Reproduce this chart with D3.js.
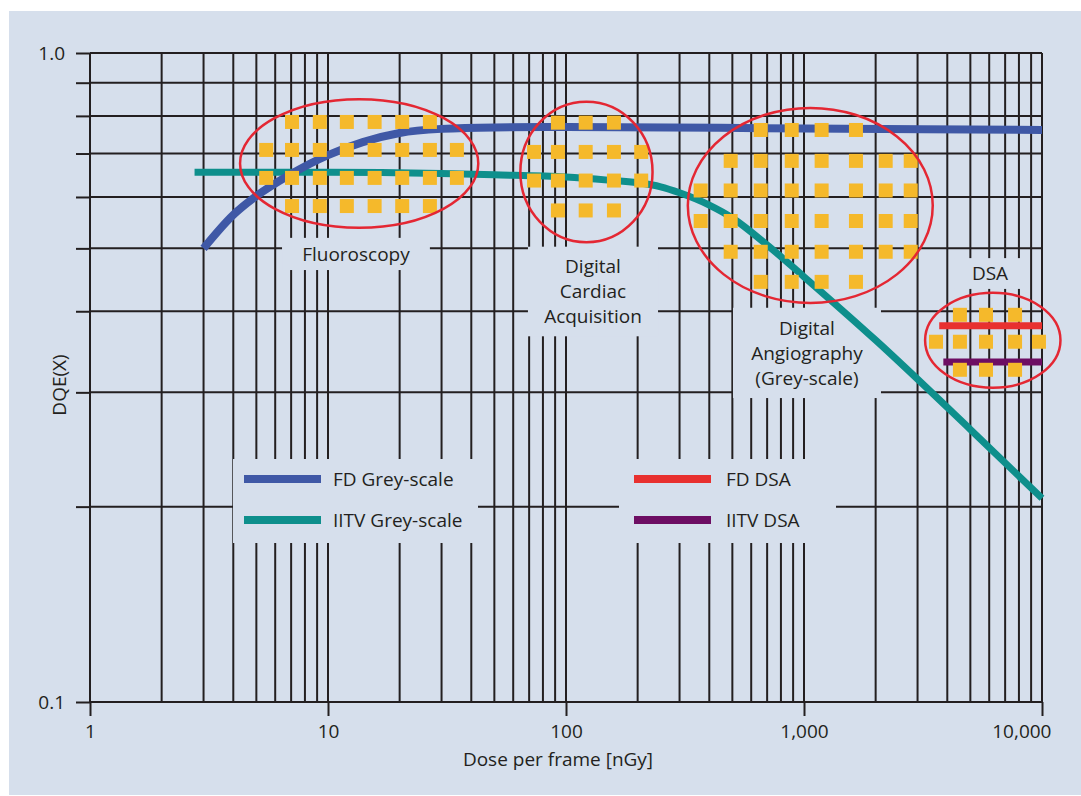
<!DOCTYPE html>
<html>
<head>
<meta charset="utf-8">
<script src="https://cdn.jsdelivr.net/npm/d3@7/dist/d3.min.js"></script>
<style>
  html, body { margin: 0; padding: 0; background: #ffffff; }
  svg { display: block; }
  text { font-family: "Open Sans", "Noto Sans", sans-serif; fill: #231f20; }
</style>
</head>
<body>
<svg id="chart" width="1081" height="796"></svg>
<script>
// ---- Data -------------------------------------------------------------
// Flat-detector grey-scale DQE vs dose per frame
const doseFD = [3, 4, 5, 7, 10, 14, 20, 30, 50, 100, 1000, 10000];
const dqeFD  = [0.50, 0.563, 0.602, 0.651, 0.696, 0.729, 0.753, 0.764, 0.768, 0.769, 0.765, 0.761];

// Image-intensifier TV grey-scale DQE
const doseIITV = [2.75, 10, 30, 50, 100, 150, 200, 250, 300, 400, 500, 700, 1000, 2000, 5000, 10000];
const dqeIITV  = [0.655, 0.655, 0.652, 0.649, 0.644, 0.637, 0.631, 0.622, 0.609, 0.583, 0.557, 0.506, 0.452, 0.361, 0.263, 0.206];

// DSA levels (dose range, DQE)
const doseFDDSA = [3700, 10000];
const dqeFDDSA  = [0.38, 0.38];
const doseIITVDSA = [3850, 10000];
const dqeIITVDSA  = [0.334, 0.334];

// Axis ticks
const doseMajorTicks  = [1, 10, 100, 1000, 10000];
const doseTickLabels  = ["1", "10", "100", "1,000", "10,000"];
const dqeGridValues   = [0.1, 0.2, 0.3, 0.4, 0.5, 0.6, 0.7, 0.8, 0.9, 1.0];
const dqeLabelledTicks = [0.1, 1.0];

// Typical operating points of each imaging mode (dose columns, DQE rows,
// and the first/last column used in each row)
const fluoroCols  = [5.5, 7.06, 9.24, 12.0, 15.7, 20.5, 26.8, 34.8];
const fluoroRows  = [0.783, 0.709, 0.642, 0.581];
const fluoroSpans = [[1, 6], [0, 7], [0, 7], [1, 6]];

const cardiacCols  = [73.4, 92.5, 121, 159, 207];
const cardiacRows  = [0.781, 0.704, 0.636, 0.572];
const cardiacSpans = [[1, 3], [0, 4], [0, 4], [1, 3]];

const angioCols  = [368, 492, 658, 888, 1186, 1653, 2204, 2808];
const angioRows  = [0.761, 0.682, 0.614, 0.551, 0.494, 0.444];
const angioSpans = [[2, 5], [1, 7], [0, 7], [0, 7], [1, 7], [2, 5]];

const dsaCols  = [3586, 4520, 5817, 7706, 9710];
const dsaRows  = [0.395, 0.359, 0.325];
const dsaSpans = [[1, 3], [0, 4], [1, 3]];

// Ellipses enclosing each mode: [dose min, dose max], [DQE low, DQE high]
const modeEllipses = [
  { dose: [4.27, 42.8],  dqe: [0.538, 0.849] },
  { dose: [64.3, 231],   dqe: [0.511, 0.841] },
  { dose: [325, 3475],   dqe: [0.412, 0.823] },
  { dose: [3227, 11957], dqe: [0.305, 0.427] }
];

// Mode captions, placed in data space on a plain backing panel
const modeLabels = [
  { dose: [6.41, 26.8],  dqe: [0.463, 0.519], lines: ["Fluoroscopy"] },
  { dose: [69.2, 243.6], dqe: [0.366, 0.503], lines: ["Digital", "Cardiac", "Acquisition"] },
  { dose: [503, 2106],   dqe: [0.294, 0.405], lines: ["Digital", "Angiography", "(Grey-scale)"] },
  { dose: [4307, 8487],  dqe: [0.433, 0.483], lines: ["DSA"] }
];

const legendNames = ["FD Grey-scale", "IITV Grey-scale", "FD DSA", "IITV DSA"];

// ---- Styles -----------------------------------------------------------
const BG = "#d6dfec";
const INK = "#231f20";
const C_FD = "#3f58a6";
const C_IITV = "#0e8f8c";
const C_FDDSA = "#e8302f";
const C_IITVDSA = "#6d0e63";
const C_DOT = "#f5b92b";
const C_RING = "#e42733";
const FONT = 19;

// ---- Layout -----------------------------------------------------------
const svg = d3.select("#chart");
const plot = { left: 90, right: 1042, top: 53, bottom: 702 };

svg.append("rect")
  .attr("x", 9).attr("y", 11).attr("width", 1072).attr("height", 784)
  .attr("fill", BG);

const x = d3.scaleLog().domain([1, 10000]).range([plot.left, plot.right]);
const y = d3.scaleLog().domain([0.1, 1]).range([plot.bottom, plot.top]);

// ---- Grid -------------------------------------------------------------
const minorDoses = [];
for (let p = 1; p <= 1000; p *= 10) {
  for (let m = 1; m <= 9; m++) minorDoses.push(m * p);
}
minorDoses.push(10000);

const grid = svg.append("g").attr("stroke", INK).attr("stroke-width", 2);
grid.selectAll("line.v").data(minorDoses).join("line")
  .attr("class", "v")
  .attr("x1", d => x(d)).attr("x2", d => x(d))
  .attr("y1", y(1)).attr("y2", y(0.1));
grid.selectAll("line.h").data(dqeGridValues).join("line")
  .attr("class", "h")
  .attr("x1", x(1)).attr("x2", x(10000))
  .attr("y1", d => y(d)).attr("y2", d => y(d));

// ---- Axes -------------------------------------------------------------
const xAxis = d3.axisBottom(x)
  .tickValues(doseMajorTicks)
  .tickFormat((d, i) => doseTickLabels[i])
  .tickSize(14).tickPadding(9);
const gx = svg.append("g").attr("transform", `translate(0,${plot.bottom})`).call(xAxis);
gx.attr("font-size", null).attr("font-family", null);
gx.select(".domain").remove();
gx.selectAll(".tick line").attr("stroke", INK).attr("stroke-width", 2);
gx.selectAll(".tick text").attr("font-size", FONT).attr("fill", INK);
gx.selectAll(".tick").filter(d => d === 10000).select("text")
  .attr("text-anchor", "end").attr("x", 9);

const yAxis = d3.axisLeft(y)
  .tickValues(dqeGridValues)
  .tickFormat(d => dqeLabelledTicks.some(v => Math.abs(v - d) < 1e-9) ? d3.format(".1f")(d) : "")
  .tickSize(14).tickPadding(11);
const gy = svg.append("g").attr("transform", `translate(${plot.left},0)`).call(yAxis);
gy.attr("font-size", null).attr("font-family", null);
gy.select(".domain").remove();
gy.selectAll(".tick line").attr("stroke", INK).attr("stroke-width", 2);
gy.selectAll(".tick text").attr("font-size", FONT).attr("fill", INK);

svg.append("text")
  .attr("x", 558).attr("y", 766)
  .attr("text-anchor", "middle").attr("font-size", FONT)
  .text("Dose per frame [nGy]");

svg.append("text")
  .attr("transform", "translate(66,385) rotate(-90)")
  .attr("text-anchor", "middle").attr("font-size", FONT)
  .text("DQE(X)");

// ---- Caption panels (hide the grid behind the text) --------------------
const panels = svg.append("g");
modeLabels.forEach(m => {
  const x0 = x(m.dose[0]), x1 = x(m.dose[1]);
  const y0 = y(m.dqe[1]), y1 = y(m.dqe[0]);
  panels.append("rect")
    .attr("x", x0).attr("y", y0).attr("width", x1 - x0).attr("height", y1 - y0)
    .attr("fill", BG);
});

// Legend panels
const legendRows = [479, 520];
const legendPanels = [
  { x0: 233, x1: 478 },
  { x0: 619, x1: 836 }
];
legendPanels.forEach(p => {
  svg.append("rect").attr("x", p.x0).attr("y", 459)
    .attr("width", p.x1 - p.x0).attr("height", 84).attr("fill", BG);
});

// ---- Curves -----------------------------------------------------------
const line = d3.line()
  .x(d => x(d[0])).y(d => y(d[1]))
  .curve(d3.curveMonotoneX);

function series(doses, values) { return doses.map((d, i) => [d, values[i]]); }

svg.append("path").datum(series(doseIITV, dqeIITV))
  .attr("d", line).attr("fill", "none")
  .attr("stroke", C_IITV).attr("stroke-width", 7);

svg.append("path").datum(series(doseFD, dqeFD))
  .attr("d", line).attr("fill", "none")
  .attr("stroke", C_FD).attr("stroke-width", 8);

svg.append("path").datum(series(doseFDDSA, dqeFDDSA))
  .attr("d", line).attr("fill", "none")
  .attr("stroke", C_FDDSA).attr("stroke-width", 7);

svg.append("path").datum(series(doseIITVDSA, dqeIITVDSA))
  .attr("d", line).attr("fill", "none")
  .attr("stroke", C_IITVDSA).attr("stroke-width", 7);

// ---- Operating-point markers --------------------------------------------
const SQ = 14;
function drawDots(cols, rows, spans) {
  const pts = [];
  rows.forEach((q, r) => {
    for (let c = spans[r][0]; c <= spans[r][1]; c++) pts.push([cols[c], q]);
  });
  svg.append("g").selectAll("rect").data(pts).join("rect")
    .attr("x", d => x(d[0]) - SQ / 2).attr("y", d => y(d[1]) - SQ / 2)
    .attr("width", SQ).attr("height", SQ)
    .attr("fill", C_DOT);
}
drawDots(fluoroCols, fluoroRows, fluoroSpans);
drawDots(cardiacCols, cardiacRows, cardiacSpans);
drawDots(angioCols, angioRows, angioSpans);
drawDots(dsaCols, dsaRows, dsaSpans);

// ---- Mode ellipses --------------------------------------------------------
svg.append("g").selectAll("ellipse").data(modeEllipses).join("ellipse")
  .attr("cx", d => (x(d.dose[0]) + x(d.dose[1])) / 2)
  .attr("cy", d => (y(d.dqe[0]) + y(d.dqe[1])) / 2)
  .attr("rx", d => (x(d.dose[1]) - x(d.dose[0])) / 2)
  .attr("ry", d => (y(d.dqe[0]) - y(d.dqe[1])) / 2)
  .attr("fill", "none").attr("stroke", C_RING).attr("stroke-width", 2.5);

// ---- Captions -------------------------------------------------------------
const LINE_H = 25;
modeLabels.forEach(m => {
  const cx = (x(m.dose[0]) + x(m.dose[1])) / 2;
  const cy = (y(m.dqe[0]) + y(m.dqe[1])) / 2;
  const n = m.lines.length;
  m.lines.forEach((t, i) => {
    svg.append("text")
      .attr("x", cx)
      .attr("y", cy + (i - (n - 1) / 2) * LINE_H)
      .attr("dy", "0.35em")
      .attr("text-anchor", "middle").attr("font-size", FONT)
      .text(t);
  });
});

// ---- Legend ---------------------------------------------------------------
const legendItems = [
  { name: legendNames[0], color: C_FD,      col: 0, row: 0 },
  { name: legendNames[1], color: C_IITV,    col: 0, row: 1 },
  { name: legendNames[2], color: C_FDDSA,   col: 1, row: 0 },
  { name: legendNames[3], color: C_IITVDSA, col: 1, row: 1 }
];
const legendCols = [{ x0: 244, tx: 333 }, { x0: 634, tx: 726 }];
legendItems.forEach(it => {
  const c = legendCols[it.col];
  const ly = legendRows[it.row];
  svg.append("line")
    .attr("x1", c.x0).attr("x2", c.x0 + 77)
    .attr("y1", ly).attr("y2", ly)
    .attr("stroke", it.color).attr("stroke-width", 8);
  svg.append("text")
    .attr("x", c.tx).attr("y", ly).attr("dy", "0.35em")
    .attr("font-size", FONT)
    .text(it.name);
});
</script>
</body>
</html>
